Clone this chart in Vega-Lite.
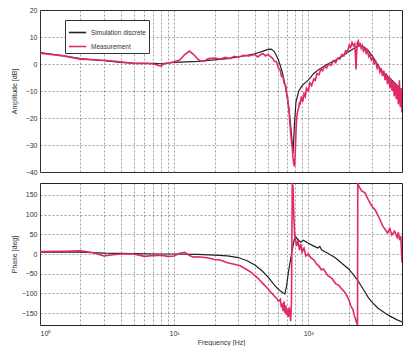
{
  "$schema": "https://vega.github.io/schema/vega-lite/v6.json",
  "background": "white",
  "padding": {"left": 9, "top": 5, "right": 14, "bottom": 0},
  "config": {
    "font": "Liberation Sans",
    "view": {"stroke": "#222", "strokeWidth": 1},
    "axis": {
      "labelFontSize": 7, "labelColor": "#333", "titleFontSize": 7, "titleColor": "#333", "titleFontWeight": "normal",
      "grid": true, "gridColor": "#555", "gridDash": [2, 2], "gridWidth": 0.7, "gridOpacity": 0.8,
      "ticks": false, "domain": false
    }
  },
  "spacing": 6,
  "datasets": {
    "amp": [
      {"f": 1, "v": 4.2, "s": "Simulation discrete"}, {"f": 1.5, "v": 3.0, "s": "Simulation discrete"}, {"f": 2, "v": 2.0, "s": "Simulation discrete"}, {"f": 3, "v": 1.2, "s": "Simulation discrete"}, {"f": 4, "v": 0.6, "s": "Simulation discrete"}, {"f": 5, "v": 0.3, "s": "Simulation discrete"}, {"f": 7, "v": 0.2, "s": "Simulation discrete"}, {"f": 8, "v": 0.1, "s": "Simulation discrete"}, {"f": 10, "v": 0.6, "s": "Simulation discrete"}, {"f": 15, "v": 1.0, "s": "Simulation discrete"}, {"f": 20, "v": 1.5, "s": "Simulation discrete"}, {"f": 25, "v": 2.0, "s": "Simulation discrete"}, {"f": 30, "v": 2.6, "s": "Simulation discrete"}, {"f": 35, "v": 3.2, "s": "Simulation discrete"}, {"f": 40, "v": 3.8, "s": "Simulation discrete"}, {"f": 45, "v": 4.6, "s": "Simulation discrete"}, {"f": 50, "v": 5.4, "s": "Simulation discrete"}, {"f": 53, "v": 5.5, "s": "Simulation discrete"}, {"f": 56, "v": 4.5, "s": "Simulation discrete"}, {"f": 60, "v": 1.5, "s": "Simulation discrete"}, {"f": 64, "v": -3, "s": "Simulation discrete"}, {"f": 68, "v": -9, "s": "Simulation discrete"}, {"f": 72, "v": -17, "s": "Simulation discrete"}, {"f": 75, "v": -26, "s": "Simulation discrete"}, {"f": 77, "v": -33, "s": "Simulation discrete"}, {"f": 79, "v": -22, "s": "Simulation discrete"}, {"f": 81, "v": -14, "s": "Simulation discrete"}, {"f": 85, "v": -10, "s": "Simulation discrete"}, {"f": 90, "v": -8, "s": "Simulation discrete"}, {"f": 100, "v": -6, "s": "Simulation discrete"}, {"f": 110, "v": -3.5, "s": "Simulation discrete"}, {"f": 120, "v": -2, "s": "Simulation discrete"}, {"f": 140, "v": 0, "s": "Simulation discrete"}, {"f": 160, "v": 1.5, "s": "Simulation discrete"}, {"f": 180, "v": 3, "s": "Simulation discrete"}, {"f": 200, "v": 4.5, "s": "Simulation discrete"}, {"f": 220, "v": 5.8, "s": "Simulation discrete"}, {"f": 240, "v": 6.8, "s": "Simulation discrete"}, {"f": 260, "v": 6.3, "s": "Simulation discrete"}, {"f": 280, "v": 5.0, "s": "Simulation discrete"}, {"f": 300, "v": 3.0, "s": "Simulation discrete"}, {"f": 350, "v": -2.5, "s": "Simulation discrete"}, {"f": 400, "v": -5, "s": "Simulation discrete"}, {"f": 450, "v": -7.5, "s": "Simulation discrete"}, {"f": 500, "v": -10, "s": "Simulation discrete"},
      {"f": 1, "v": 4.0, "s": "Measurement"}, {"f": 1.5, "v": 3.0, "s": "Measurement"}, {"f": 2, "v": 1.8, "s": "Measurement"}, {"f": 3, "v": 1.4, "s": "Measurement"}, {"f": 4, "v": 0.8, "s": "Measurement"}, {"f": 5, "v": 0.2, "s": "Measurement"}, {"f": 6, "v": 0.3, "s": "Measurement"}, {"f": 7, "v": 0.0, "s": "Measurement"}, {"f": 8, "v": -0.8, "s": "Measurement"}, {"f": 8.5, "v": 0.2, "s": "Measurement"}, {"f": 9, "v": 0.3, "s": "Measurement"}, {"f": 10, "v": 0.8, "s": "Measurement"}, {"f": 11, "v": 1.5, "s": "Measurement"}, {"f": 12, "v": 3.5, "s": "Measurement"}, {"f": 13, "v": 4.8, "s": "Measurement"}, {"f": 14, "v": 3.5, "s": "Measurement"}, {"f": 15, "v": 1.8, "s": "Measurement"}, {"f": 16, "v": 1.0, "s": "Measurement"}, {"f": 17, "v": 1.2, "s": "Measurement"}, {"f": 18, "v": 2.0, "s": "Measurement"}, {"f": 20, "v": 2.2, "s": "Measurement"}, {"f": 22, "v": 1.8, "s": "Measurement"}, {"f": 24, "v": 2.5, "s": "Measurement"}, {"f": 26, "v": 2.0, "s": "Measurement"}, {"f": 28, "v": 2.8, "s": "Measurement"}, {"f": 30, "v": 2.5, "s": "Measurement"}, {"f": 33, "v": 3.2, "s": "Measurement"}, {"f": 36, "v": 3.0, "s": "Measurement"},
      {"f": 40, "v": 3.5, "s": "Measurement"}, {"f": 42, "v": 2.6, "s": "Measurement"}, {"f": 44, "v": 3.4, "s": "Measurement"}, {"f": 46, "v": 3.8, "s": "Measurement"}, {"f": 48, "v": 3.0, "s": "Measurement"}, {"f": 50, "v": 3.6, "s": "Measurement"}, {"f": 52, "v": 2.8, "s": "Measurement"}, {"f": 54, "v": 2.2, "s": "Measurement"}, {"f": 56, "v": 1.0, "s": "Measurement"}, {"f": 58, "v": 0.8, "s": "Measurement"}, {"f": 60, "v": -1.5, "s": "Measurement"}, {"f": 62, "v": -2.5, "s": "Measurement"}, {"f": 63, "v": -4.5, "s": "Measurement"}, {"f": 65, "v": -5, "s": "Measurement"}, {"f": 66, "v": -7, "s": "Measurement"}, {"f": 68, "v": -8, "s": "Measurement"}, {"f": 69, "v": -11, "s": "Measurement"}, {"f": 70, "v": -12, "s": "Measurement"}, {"f": 72, "v": -18, "s": "Measurement"}, {"f": 73, "v": -22, "s": "Measurement"}, {"f": 74, "v": -26, "s": "Measurement"}, {"f": 76, "v": -31, "s": "Measurement"}, {"f": 77, "v": -35, "s": "Measurement"}, {"f": 78, "v": -37, "s": "Measurement"}, {"f": 79, "v": -38, "s": "Measurement"}, {"f": 80, "v": -33, "s": "Measurement"}, {"f": 81, "v": -25, "s": "Measurement"}, {"f": 82, "v": -20, "s": "Measurement"}, {"f": 83, "v": -18, "s": "Measurement"}, {"f": 85, "v": -16, "s": "Measurement"}, {"f": 86, "v": -14, "s": "Measurement"}, {"f": 87, "v": -15, "s": "Measurement"}, {"f": 89, "v": -12, "s": "Measurement"}, {"f": 91, "v": -14, "s": "Measurement"}, {"f": 93, "v": -11, "s": "Measurement"}, {"f": 95, "v": -12, "s": "Measurement"}, {"f": 97, "v": -9, "s": "Measurement"}, {"f": 100, "v": -10, "s": "Measurement"}, {"f": 103, "v": -7, "s": "Measurement"}, {"f": 106, "v": -8, "s": "Measurement"}, {"f": 110, "v": -5.5, "s": "Measurement"}, {"f": 113, "v": -6, "s": "Measurement"}, {"f": 116, "v": -3.5, "s": "Measurement"}, {"f": 120, "v": -4, "s": "Measurement"}, {"f": 124, "v": -2, "s": "Measurement"}, {"f": 128, "v": -2.5, "s": "Measurement"}, {"f": 132, "v": -0.8, "s": "Measurement"}, {"f": 137, "v": -1.5, "s": "Measurement"}, {"f": 142, "v": 0, "s": "Measurement"}, {"f": 148, "v": -0.5, "s": "Measurement"}, {"f": 154, "v": 1.2, "s": "Measurement"}, {"f": 160, "v": 0.5, "s": "Measurement"}, {"f": 166, "v": 2.2, "s": "Measurement"}, {"f": 172, "v": 1.8, "s": "Measurement"}, {"f": 178, "v": 3.5, "s": "Measurement"}, {"f": 184, "v": 3.0, "s": "Measurement"}, {"f": 190, "v": 5.0, "s": "Measurement"}, {"f": 196, "v": 4.5, "s": "Measurement"}, {"f": 202, "v": 7.0, "s": "Measurement"}, {"f": 207, "v": 6.2, "s": "Measurement"}, {"f": 212, "v": 8.0, "s": "Measurement"}, {"f": 217, "v": 6.8, "s": "Measurement"}, {"f": 222, "v": 7.5, "s": "Measurement"}, {"f": 225, "v": 3, "s": "Measurement"}, {"f": 227, "v": -2, "s": "Measurement"}, {"f": 229, "v": 3, "s": "Measurement"}, {"f": 232, "v": 7.8, "s": "Measurement"}, {"f": 236, "v": 8.5, "s": "Measurement"}, {"f": 240, "v": 6.5, "s": "Measurement"}, {"f": 244, "v": 7.8, "s": "Measurement"}, {"f": 248, "v": 5.8, "s": "Measurement"}, {"f": 253, "v": 6.8, "s": "Measurement"}, {"f": 258, "v": 4.8, "s": "Measurement"}, {"f": 264, "v": 5.8, "s": "Measurement"}, {"f": 270, "v": 4.0, "s": "Measurement"}, {"f": 276, "v": 5.0, "s": "Measurement"}, {"f": 282, "v": 2.8, "s": "Measurement"}, {"f": 288, "v": 3.6, "s": "Measurement"}, {"f": 295, "v": 1.5, "s": "Measurement"}, {"f": 302, "v": 2.5, "s": "Measurement"}, {"f": 310, "v": 0.2, "s": "Measurement"}, {"f": 318, "v": 1.0, "s": "Measurement"}, {"f": 326, "v": -1.5, "s": "Measurement"}, {"f": 334, "v": -0.5, "s": "Measurement"}, {"f": 342, "v": -3, "s": "Measurement"}, {"f": 350, "v": -1.5, "s": "Measurement"}, {"f": 358, "v": -4.5, "s": "Measurement"}, {"f": 366, "v": -2.5, "s": "Measurement"}, {"f": 374, "v": -6, "s": "Measurement"}, {"f": 382, "v": -3.5, "s": "Measurement"}, {"f": 390, "v": -7.5, "s": "Measurement"}, {"f": 398, "v": -4.5, "s": "Measurement"}, {"f": 406, "v": -9, "s": "Measurement"}, {"f": 414, "v": -5.5, "s": "Measurement"}, {"f": 422, "v": -10, "s": "Measurement"}, {"f": 430, "v": -6.5, "s": "Measurement"}, {"f": 438, "v": -12, "s": "Measurement"}, {"f": 446, "v": -7, "s": "Measurement"}, {"f": 454, "v": -13, "s": "Measurement"}, {"f": 462, "v": -8, "s": "Measurement"}, {"f": 470, "v": -15, "s": "Measurement"}, {"f": 478, "v": -6, "s": "Measurement"}, {"f": 486, "v": -16, "s": "Measurement"}, {"f": 494, "v": -9, "s": "Measurement"}, {"f": 500, "v": -18, "s": "Measurement"}
    ],
    "phase": [
      {"f": 1, "v": 5, "s": "Simulation discrete"}, {"f": 2, "v": 5, "s": "Simulation discrete"}, {"f": 3, "v": 2, "s": "Simulation discrete"}, {"f": 5, "v": 1, "s": "Simulation discrete"}, {"f": 8, "v": 0, "s": "Simulation discrete"}, {"f": 10, "v": 0, "s": "Simulation discrete"}, {"f": 15, "v": -1, "s": "Simulation discrete"}, {"f": 20, "v": -3, "s": "Simulation discrete"}, {"f": 25, "v": -5, "s": "Simulation discrete"}, {"f": 30, "v": -9, "s": "Simulation discrete"}, {"f": 35, "v": -17, "s": "Simulation discrete"}, {"f": 40, "v": -28, "s": "Simulation discrete"}, {"f": 45, "v": -42, "s": "Simulation discrete"}, {"f": 50, "v": -58, "s": "Simulation discrete"}, {"f": 56, "v": -79, "s": "Simulation discrete"}, {"f": 60, "v": -90, "s": "Simulation discrete"}, {"f": 65, "v": -99, "s": "Simulation discrete"}, {"f": 67, "v": -101, "s": "Simulation discrete"}, {"f": 69, "v": -80, "s": "Simulation discrete"}, {"f": 71, "v": -48, "s": "Simulation discrete"}, {"f": 75, "v": 0, "s": "Simulation discrete"}, {"f": 78, "v": 30, "s": "Simulation discrete"}, {"f": 80, "v": 46, "s": "Simulation discrete"}, {"f": 83, "v": 38, "s": "Simulation discrete"}, {"f": 88, "v": 30, "s": "Simulation discrete"}, {"f": 92, "v": 35, "s": "Simulation discrete"}, {"f": 100, "v": 27, "s": "Simulation discrete"}, {"f": 110, "v": 20, "s": "Simulation discrete"}, {"f": 118, "v": 15, "s": "Simulation discrete"}, {"f": 122, "v": 19, "s": "Simulation discrete"}, {"f": 126, "v": 10, "s": "Simulation discrete"}, {"f": 140, "v": 2, "s": "Simulation discrete"}, {"f": 160, "v": -10, "s": "Simulation discrete"}, {"f": 176, "v": -22, "s": "Simulation discrete"}, {"f": 200, "v": -38, "s": "Simulation discrete"}, {"f": 220, "v": -55, "s": "Simulation discrete"}, {"f": 236, "v": -69, "s": "Simulation discrete"}, {"f": 260, "v": -92, "s": "Simulation discrete"}, {"f": 280, "v": -110, "s": "Simulation discrete"}, {"f": 295, "v": -120, "s": "Simulation discrete"}, {"f": 330, "v": -137, "s": "Simulation discrete"}, {"f": 375, "v": -150, "s": "Simulation discrete"}, {"f": 420, "v": -160, "s": "Simulation discrete"}, {"f": 460, "v": -167, "s": "Simulation discrete"}, {"f": 500, "v": -172, "s": "Simulation discrete"},
      {"f": 1, "v": 6, "s": "Measurement"}, {"f": 1.5, "v": 7, "s": "Measurement"}, {"f": 2, "v": 8, "s": "Measurement"}, {"f": 2.5, "v": 3, "s": "Measurement"}, {"f": 3, "v": -5, "s": "Measurement"}, {"f": 3.5, "v": -2, "s": "Measurement"}, {"f": 4, "v": 0, "s": "Measurement"}, {"f": 5, "v": 0, "s": "Measurement"}, {"f": 6, "v": -6, "s": "Measurement"}, {"f": 7, "v": -4, "s": "Measurement"}, {"f": 8, "v": -3, "s": "Measurement"}, {"f": 9, "v": -6, "s": "Measurement"}, {"f": 10, "v": -5, "s": "Measurement"}, {"f": 11, "v": 2, "s": "Measurement"}, {"f": 12, "v": 4, "s": "Measurement"}, {"f": 13, "v": -4, "s": "Measurement"}, {"f": 14, "v": -8, "s": "Measurement"}, {"f": 15, "v": -7, "s": "Measurement"}, {"f": 17, "v": -9, "s": "Measurement"}, {"f": 18, "v": -10, "s": "Measurement"}, {"f": 20, "v": -14, "s": "Measurement"}, {"f": 22, "v": -15, "s": "Measurement"}, {"f": 25, "v": -22, "s": "Measurement"}, {"f": 28, "v": -26, "s": "Measurement"}, {"f": 31, "v": -30, "s": "Measurement"}, {"f": 35, "v": -40, "s": "Measurement"}, {"f": 38, "v": -48, "s": "Measurement"}, {"f": 42, "v": -61, "s": "Measurement"}, {"f": 46, "v": -75, "s": "Measurement"}, {"f": 50, "v": -88, "s": "Measurement"}, {"f": 53, "v": -98, "s": "Measurement"}, {"f": 56, "v": -107, "s": "Measurement"}, {"f": 58, "v": -112, "s": "Measurement"}, {"f": 60, "v": -120, "s": "Measurement"}, {"f": 62, "v": -115, "s": "Measurement"}, {"f": 63, "v": -135, "s": "Measurement"}, {"f": 64, "v": -125, "s": "Measurement"}, {"f": 65, "v": -145, "s": "Measurement"}, {"f": 66, "v": -120, "s": "Measurement"}, {"f": 67, "v": -150, "s": "Measurement"}, {"f": 68, "v": -130, "s": "Measurement"}, {"f": 69, "v": -155, "s": "Measurement"}, {"f": 70, "v": -140, "s": "Measurement"}, {"f": 71, "v": -160, "s": "Measurement"}, {"f": 72, "v": -135, "s": "Measurement"}, {"f": 73, "v": -150, "s": "Measurement"}, {"f": 74, "v": -170, "s": "Measurement"}, {"f": 75, "v": -120, "s": "Measurement"}, {"f": 76, "v": 180, "s": "Measurement"}, {"f": 77, "v": 170, "s": "Measurement"}, {"f": 78, "v": 100, "s": "Measurement"}, {"f": 79, "v": 55, "s": "Measurement"}, {"f": 80, "v": 40, "s": "Measurement"}, {"f": 82, "v": 20, "s": "Measurement"}, {"f": 84, "v": 35, "s": "Measurement"}, {"f": 86, "v": 10, "s": "Measurement"}, {"f": 88, "v": 25, "s": "Measurement"}, {"f": 90, "v": 5, "s": "Measurement"}, {"f": 93, "v": 15, "s": "Measurement"}, {"f": 96, "v": -5, "s": "Measurement"}, {"f": 100, "v": 0, "s": "Measurement"}, {"f": 105, "v": -10, "s": "Measurement"}, {"f": 110, "v": -15, "s": "Measurement"}, {"f": 115, "v": -25, "s": "Measurement"}, {"f": 120, "v": -30, "s": "Measurement"}, {"f": 125, "v": -40, "s": "Measurement"}, {"f": 130, "v": -38, "s": "Measurement"}, {"f": 140, "v": -55, "s": "Measurement"}, {"f": 150, "v": -62, "s": "Measurement"}, {"f": 160, "v": -75, "s": "Measurement"}, {"f": 170, "v": -80, "s": "Measurement"}, {"f": 175, "v": -86, "s": "Measurement"}, {"f": 180, "v": -90, "s": "Measurement"}, {"f": 190, "v": -100, "s": "Measurement"}, {"f": 200, "v": -115, "s": "Measurement"}, {"f": 208, "v": -132, "s": "Measurement"}, {"f": 215, "v": -140, "s": "Measurement"}, {"f": 220, "v": -155, "s": "Measurement"}, {"f": 225, "v": -165, "s": "Measurement"}, {"f": 230, "v": -175, "s": "Measurement"}, {"f": 233, "v": -180, "s": "Measurement"}, {"f": 234, "v": 180, "s": "Measurement"}, {"f": 236, "v": 175, "s": "Measurement"}, {"f": 240, "v": 170, "s": "Measurement"}, {"f": 250, "v": 160, "s": "Measurement"}, {"f": 265, "v": 155, "s": "Measurement"}, {"f": 280, "v": 138, "s": "Measurement"}, {"f": 300, "v": 120, "s": "Measurement"}, {"f": 315, "v": 112, "s": "Measurement"}, {"f": 340, "v": 90, "s": "Measurement"}, {"f": 360, "v": 70, "s": "Measurement"}, {"f": 375, "v": 62, "s": "Measurement"}, {"f": 390, "v": 53, "s": "Measurement"}, {"f": 405, "v": 65, "s": "Measurement"}, {"f": 420, "v": 48, "s": "Measurement"}, {"f": 440, "v": 58, "s": "Measurement"}, {"f": 460, "v": 42, "s": "Measurement"}, {"f": 470, "v": 55, "s": "Measurement"}, {"f": 480, "v": 35, "s": "Measurement"}, {"f": 490, "v": 45, "s": "Measurement"}, {"f": 500, "v": -22, "s": "Measurement"}
    ]
  },
  "vconcat": [
    {
      "width": 362, "height": 162,
      "data": {"name": "amp"},
      "encoding": {
        "x": {"field": "f", "type": "quantitative", "scale": {"type": "log", "domain": [1, 500], "nice": false},
              "axis": {"labels": false, "title": null, "values": [1,2,3,4,5,6,7,8,9,10,20,30,40,50,60,70,80,90,100,200,300,400]}},
        "y": {"field": "v", "type": "quantitative", "scale": {"domain": [-40, 20], "nice": false},
              "axis": {"title": "Amplitude [dB]", "values": [-40,-30,-20,-10,0,10,20], "labelPadding": 3, "minExtent": 22, "maxExtent": 22, "titlePadding": 1}},
        "color": {"field": "s", "type": "nominal",
                  "scale": {"domain": ["Simulation discrete", "Measurement"], "range": ["#222222", "#e3286a"]},
                  "legend": {"orient": "none", "legendX": 25, "legendY": 10, "title": null, "fillColor": "white", "strokeColor": "#333",
                             "padding": 3, "labelFontSize": 6.5, "labelColor": "#333", "symbolType": "stroke", "symbolSize": 300, "symbolStrokeWidth": 1.6, "rowPadding": 1}}
      },
      "layer": [
        {"transform": [{"filter": "datum.s == 'Simulation discrete'"}], "mark": {"type": "line", "strokeWidth": 1.2, "clip": true}},
        {"transform": [{"filter": "datum.s == 'Measurement'"}], "mark": {"type": "line", "strokeWidth": 1.6, "clip": true}}
      ]
    },
    {
      "width": 362, "height": 142,
      "data": {"name": "phase"},
      "encoding": {
        "x": {"field": "f", "type": "quantitative", "scale": {"type": "log", "domain": [1, 500], "nice": false},
              "axis": {"title": "Frequency [Hz]", "values": [1,2,3,4,5,6,7,8,9,10,20,30,40,50,60,70,80,90,100,200,300,400],
                       "labelExpr": "datum.value == 1 ? '10⁰' : datum.value == 10 ? '10¹' : datum.value == 100 ? '10²' : ''", "labelPadding": 4, "titlePadding": 2}},
        "y": {"field": "v", "type": "quantitative", "scale": {"domain": [-180, 180], "nice": false},
              "axis": {"title": "Phase [deg]", "values": [-150,-100,-50,0,50,100,150], "labelPadding": 3, "minExtent": 22, "maxExtent": 22, "titlePadding": 1}},
        "color": {"field": "s", "type": "nominal",
                  "scale": {"domain": ["Simulation discrete", "Measurement"], "range": ["#222222", "#e3286a"]}, "legend": null}
      },
      "layer": [
        {"transform": [{"filter": "datum.s == 'Simulation discrete'"}], "mark": {"type": "line", "strokeWidth": 1.2, "clip": true}},
        {"transform": [{"filter": "datum.s == 'Measurement'"}], "mark": {"type": "line", "strokeWidth": 1.6, "clip": true}}
      ]
    }
  ],
  "resolve": {"scale": {"color": "independent"}, "legend": {"color": "independent"}}
}
